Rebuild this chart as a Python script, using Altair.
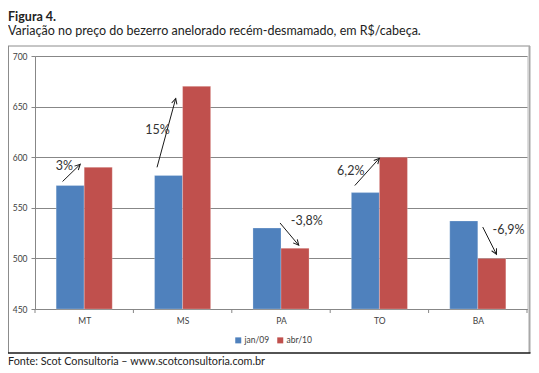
import math
import altair as alt
import pandas as pd

# ---------------- data ----------------
states = ["MT", "MS", "PA", "TO", "BA"]
series = ["jan/09", "abr/10"]
jan09 = [572, 582, 530, 565, 537]
abr10 = [590, 670, 510, 600, 500]
changes = ["3%", "15%", "-3,8%", "6,2%", "-6,9%"]

# arrow annotations in data units (x relative to each category centre)
arrow_x1 = [-0.22, -0.26, -0.01, -0.25, 0.05]
arrow_y1 = [576, 590, 535, 572, 531]
arrow_x2 = [-0.04, -0.07, 0.18, 0.00, 0.19]
arrow_y2 = [593, 658, 513, 599, 504]
label_dx = [-0.29, -0.38, 0.10, -0.43, 0.15]
label_y = [591, 627, 537, 586, 528]

y_ticks = [450, 500, 550, 600, 650, 700]
colors = ["#4F81BD", "#C0504D"]

TITLE = "Figura 4."
SUBTITLE = "Variação no preço do bezerro anelorado recém-desmamado, em R$/cabeça."
SOURCE = "Fonte: Scot Consultoria – www.scotconsultoria.com.br"

FONT = "Lato"
W, H = 492, 253
BAR = 0.285  # bar width as a fraction of one category step
GRID = "#878787"

# ---------------- tables ----------------
rows = []
for i, s in enumerate(states):
    rows.append({"state": s, "series": series[0], "x": i - BAR, "x2": i, "v": jan09[i], "base": y_ticks[0]})
    rows.append({"state": s, "series": series[1], "x": i, "x2": i + BAR, "v": abr10[i], "base": y_ticks[0]})
bars_df = pd.DataFrame(rows)

px_x = W / len(states)
px_y = H / (y_ticks[-1] - y_ticks[0])
arr_rows = []
for i in range(len(states)):
    dx = (arrow_x2[i] - arrow_x1[i]) * px_x
    dy = (arrow_y2[i] - arrow_y1[i]) * px_y
    ang = math.degrees(math.atan2(dx, dy)) % 360
    arr_rows.append({
        "x1": i + arrow_x1[i], "y1": arrow_y1[i],
        "x2": i + arrow_x2[i], "y2": arrow_y2[i],
        "ang": ang, "lx": i + label_dx[i], "ly": label_y[i], "txt": changes[i],
    })
arr_df = pd.DataFrame(arr_rows)
bounds_df = pd.DataFrame({"b": [i - 0.5 for i in range(len(states) + 1)]})
one = pd.DataFrame({"a": [0]})

label_expr = "[" + ",".join("'%s'" % s for s in states) + "][round(datum.value)]"

xscale = alt.Scale(domain=[-0.5, len(states) - 0.5], nice=False, zero=False)
yscale = alt.Scale(domain=[y_ticks[0], y_ticks[-1]], nice=False, zero=False)

bars = alt.Chart(bars_df).mark_rect(stroke="white", strokeWidth=0.4, strokeOpacity=0.6).encode(
    x=alt.X("x:Q", scale=xscale, title=None, axis=alt.Axis(
        values=list(range(len(states))), labelExpr=label_expr, title=None, grid=False,
        ticks=False, domainColor=GRID, labelFont=FONT, labelFontSize=8.5,
        labelColor="#404040", labelPadding=7)),
    x2="x2:Q",
    y=alt.Y("v:Q", scale=yscale, title=None, axis=alt.Axis(
        values=y_ticks, title=None, grid=True, gridColor=GRID, domainColor=GRID,
        tickColor=GRID, tickSize=4, labelFont=FONT, labelFontSize=8.5,
        labelColor="#404040", labelPadding=4)),
    y2="base:Q",
    color=alt.Color("series:N", scale=alt.Scale(domain=series, range=colors), legend=alt.Legend(
        title=None, orient="none", legendX=199, legendY=280, direction="horizontal",
        symbolType="square", symbolSize=36, symbolStrokeWidth=0, labelFont=FONT,
        labelFontSize=8.5, labelColor="#404040", labelOffset=2, columnPadding=6)),
)

xticks = alt.Chart(bounds_df).mark_rule(color=GRID).encode(
    x=alt.X("b:Q", scale=xscale, title=None), y=alt.value(H), y2=alt.value(H + 4))

arrows = alt.Chart(arr_df).mark_rule(color="#1a1a1a", strokeWidth=1).encode(
    x=alt.X("x1:Q", scale=xscale, title=None), x2="x2:Q",
    y=alt.Y("y1:Q", scale=yscale, title=None), y2="y2:Q")

heads = alt.Chart(arr_df).mark_point(
    shape="M -0.7 1.4 L 0 0 L 0.7 1.4", filled=False, color="#1a1a1a",
    strokeWidth=1, size=60, opacity=1).encode(
    x=alt.X("x2:Q", scale=xscale, title=None),
    y=alt.Y("y2:Q", scale=yscale, title=None),
    angle=alt.Angle("ang:Q", scale=None))

labels = alt.Chart(arr_df).mark_text(
    align="left", baseline="middle", font=FONT, fontSize=12.5, color="#333333").encode(
    x=alt.X("lx:Q", scale=xscale, title=None),
    y=alt.Y("ly:Q", scale=yscale, title=None),
    text="txt:N")

# frame around the chart (decoration)
frame_top = alt.Chart(one).mark_rule(color="#8c8c8c", strokeWidth=1).encode(
    x=alt.value(-27), x2=alt.value(495), y=alt.value(-10))
frame_left = alt.Chart(one).mark_rule(color="#8c8c8c", strokeWidth=1).encode(
    x=alt.value(-26.5), y=alt.value(-10), y2=alt.value(297))
frame_right = alt.Chart(one).mark_rule(color="#a8a8a8", strokeWidth=2).encode(
    x=alt.value(494.5), y=alt.value(-10), y2=alt.value(297))
frame_bottom = alt.Chart(one).mark_rule(color="#1a1a1a", strokeWidth=1.6).encode(
    x=alt.value(-27), x2=alt.value(495.5), y=alt.value(297))

title = alt.Chart(one).mark_text(align="left", baseline="alphabetic", font=FONT,
                                 fontSize=12.5, fontWeight="bold", color="#222222").encode(
    x=alt.value(-27), y=alt.value(-35.5), text=alt.value(TITLE))
subtitle = alt.Chart(one).mark_text(align="left", baseline="alphabetic", font=FONT,
                                    fontSize=12.5, color="#222222").encode(
    x=alt.value(-27), y=alt.value(-20.7), text=alt.value(SUBTITLE))
source = alt.Chart(one).mark_text(align="left", baseline="alphabetic", font=FONT,
                                  fontSize=10.8, color="#222222").encode(
    x=alt.value(-27), y=alt.value(308.5), text=alt.value(SOURCE))

chart = alt.layer(
    bars, xticks, arrows, heads, labels,
    frame_top, frame_left, frame_right, frame_bottom, title, subtitle, source
).properties(
    width=W, height=H,
    autosize=alt.AutoSizeParams(type="none"),
    padding={"left": 27, "top": 48, "right": 4, "bottom": 56},
).configure_view(stroke=None).configure(background="white")

chart.save("out.html", embed_options={"renderer": "svg", "actions": False})
